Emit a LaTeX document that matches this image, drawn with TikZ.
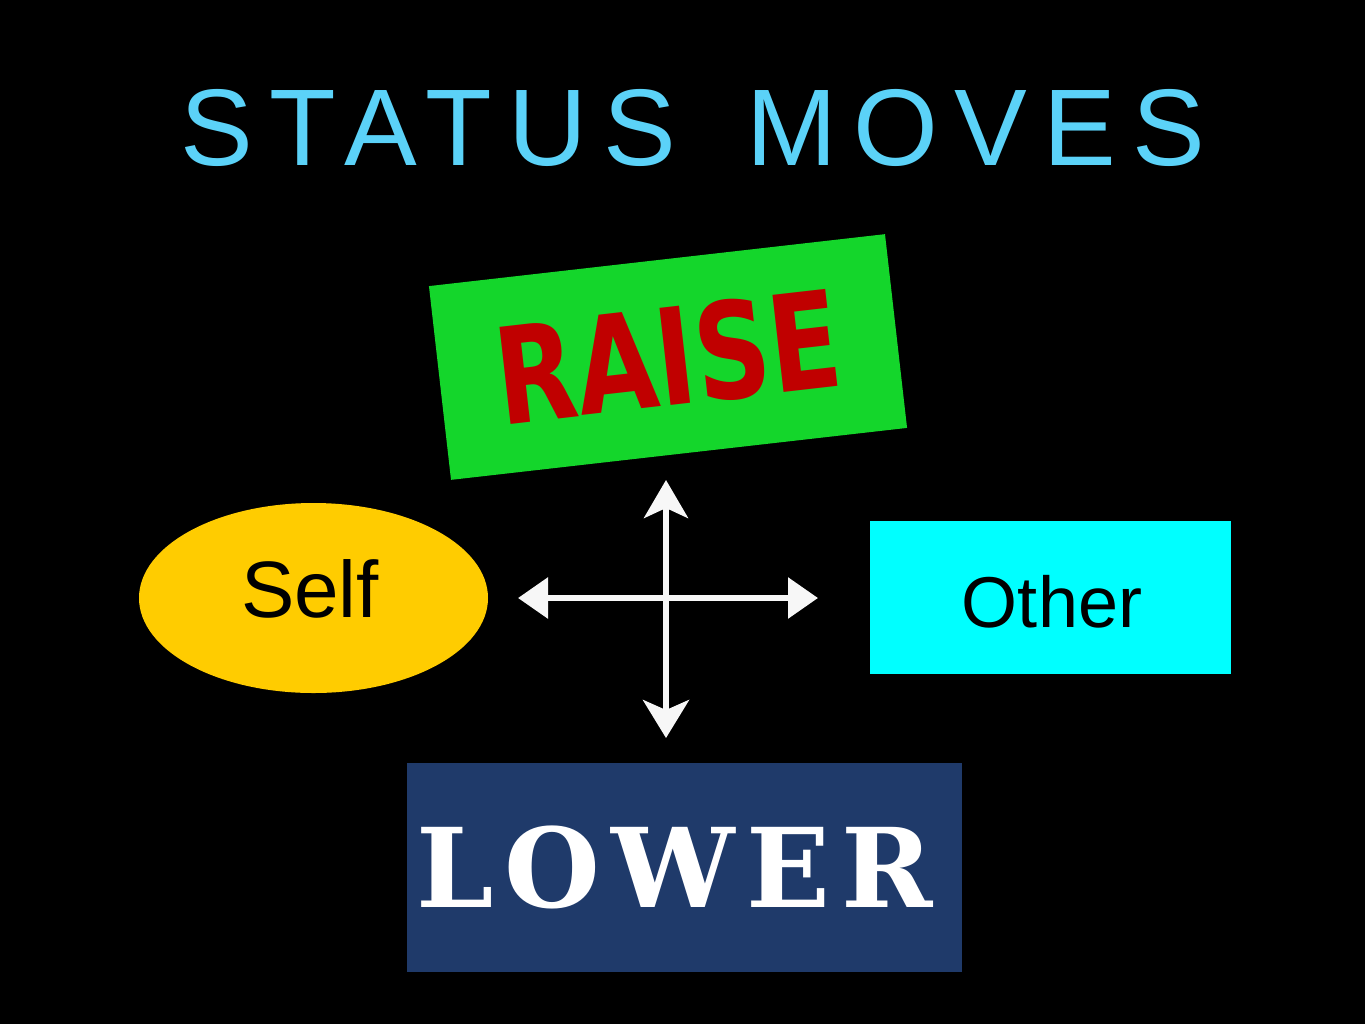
\documentclass[tikz,border=0pt]{standalone}
\usepackage{fontspec}
\setmainfont{Liberation Sans}
\newfontfamily\raisefont{DejaVu Sans}[FakeStretch=0.78]
\newfontfamily\lowerfont{DejaVu Serif}[LetterSpace=10]
\newfontfamily\titlefont{Liberation Sans}[LetterSpace=15]
\usetikzlibrary{arrows.meta, shapes.geometric}
\definecolor{titleblue}{HTML}{5BD2F8}
\definecolor{raisegreen}{HTML}{14D62B}
\definecolor{raisered}{HTML}{C00000}
\definecolor{lowerblue}{HTML}{1F3A6A}
\definecolor{selfgold}{HTML}{FFCC00}
\definecolor{othercyan}{HTML}{00FFFF}
\tikzset{%
  >={Triangle[width=20pt,length=15pt]},
  % Specifications for style of nodes:
           base/.style = {rectangle, inner sep=0pt, text centered},
       raisebox/.style = {base, fill=raisegreen, minimum width=229.5pt,
                          minimum height=97.5pt, text=raisered,
                          font=\raisefont\bfseries\fontsize{67}{70}\selectfont},
       lowerbox/.style = {base, fill=lowerblue, minimum width=277.5pt,
                          minimum height=104.5pt, text=white,
                          font=\lowerfont\bfseries\fontsize{55}{60}\selectfont},
       otherbox/.style = {base, fill=othercyan, minimum width=180.5pt,
                          minimum height=76.5pt},
        selfell/.style = {ellipse, inner sep=0pt, fill=selfgold,
                          minimum width=174.5pt, minimum height=95pt},
         chalk/.style = {draw=white!94!gray, line width=3pt},
}

\begin{document}
\begin{tikzpicture}[x=0.5pt, y=-0.5pt]
  % Background and page size
  \fill[black] (0,0) rectangle (1365,1024);

  % Specification of nodes (position, etc.)
  \node (title)   [anchor=base west, inner sep=0pt, text=titleblue,
                   font=\titlefont\fontsize{54.5}{60}\selectfont] at (180,165) {STATUS \hspace{12pt}MOVES};
  \node (raise)   [raisebox, rotate=6.5] at (668,357) {RAISE};
  \node (lower)   [lowerbox] at (684.5,867.5) {\hspace{-10pt}LOWER};
  \node (self)    [selfell] at (313.5,598) {};
  \node (selft)   [anchor=base, font=\fontsize{40}{48}\selectfont] at (310,617) {Self};
  \node (other)   [otherbox] at (1050.5,597.5) {};
  \node (othert)  [anchor=base, font=\fontsize{36}{43}\selectfont] at (1052,627) {Other};

  % Free ends of the cross
  \coordinate (left)  at (518,598);
  \coordinate (right) at (818,598);
  \coordinate (up)    at (666,480);
  \coordinate (down)  at (666,738);

  \draw[chalk, <->]  (left) -- (right);
  \draw[chalk, {Stealth[width=22pt,length=19pt,inset=5pt]}-{Stealth[width=23pt,length=19pt,inset=5pt]}]
                     (up) -- (down);

\end{tikzpicture}
\end{document}
